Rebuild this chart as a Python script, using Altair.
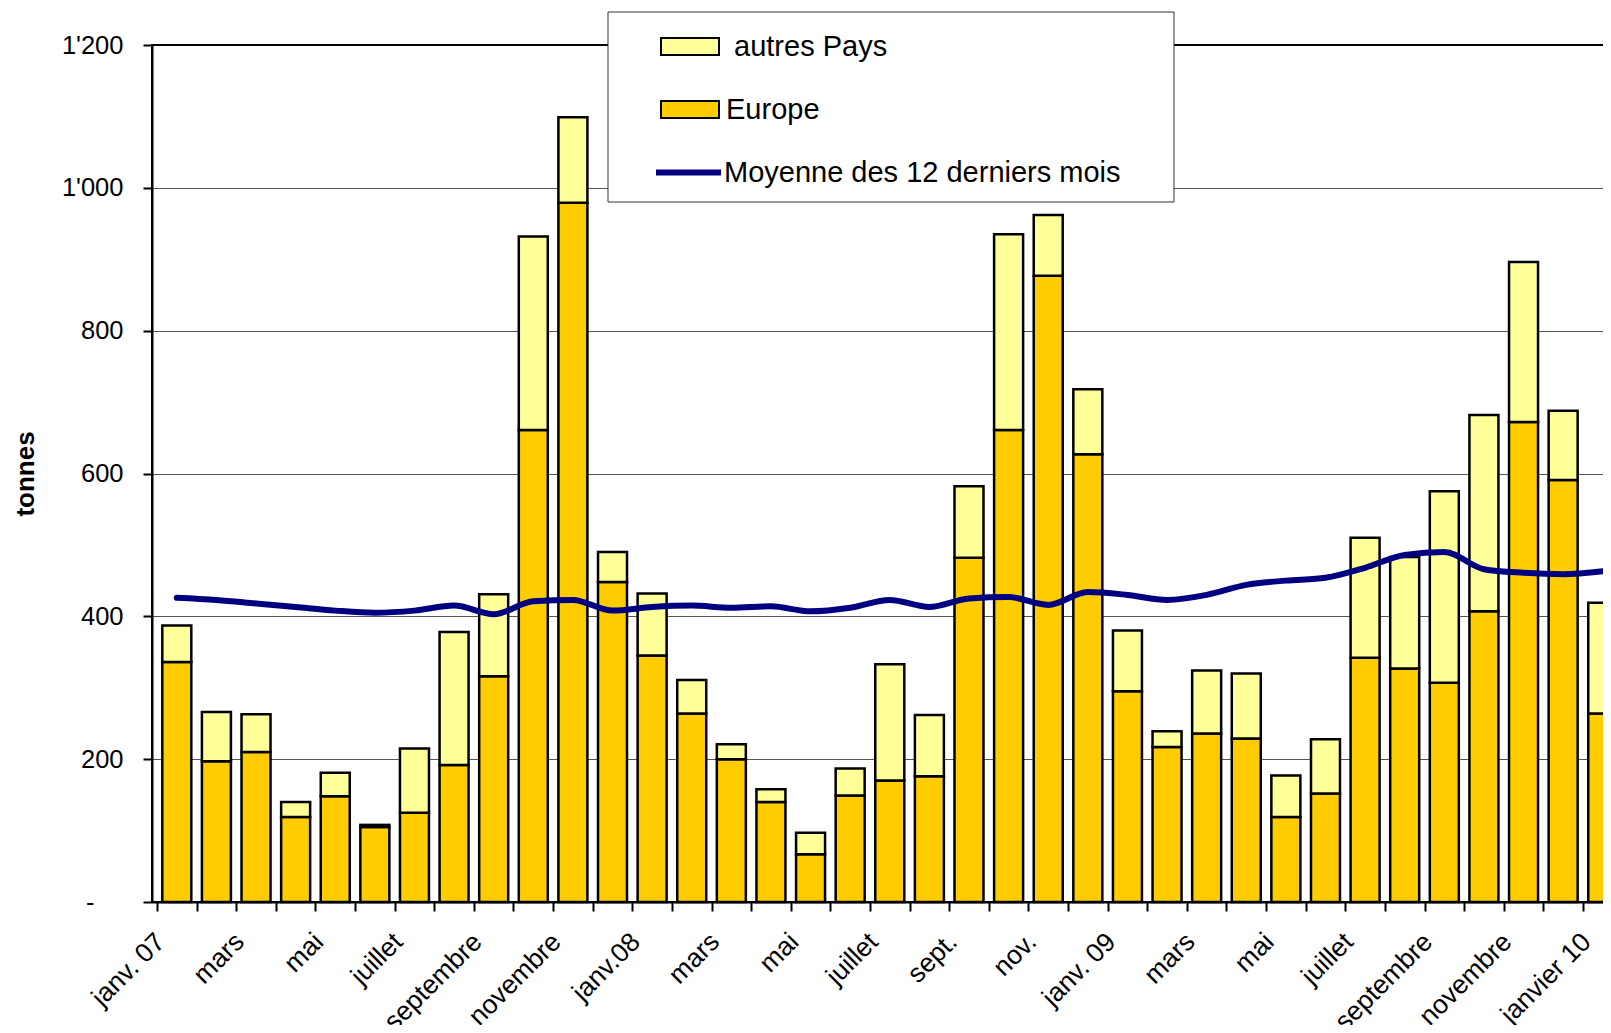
import altair as alt
import pandas as pd

# ---- data ----
tick_labels = ["janv. 07", "mars", "mai", "juillet", "septembre", "novembre",
               "janv.08", "mars", "mai", "juillet", "sept.", "nov.",
               "janv. 09", "mars", "mai", "juillet", "septembre", "novembre", "janvier 10"]

europe = [336, 197, 210, 119, 148, 105, 125, 192, 316, 661, 979, 448,
          345, 264, 200, 140, 67, 149, 170, 176, 482, 661, 877, 627,
          295, 217, 236, 229, 119, 152, 342, 327, 307, 407, 672, 591, 264]

autres = [51, 69, 53, 21, 33, 3, 90, 186, 115, 271, 120, 42,
          87, 47, 21, 18, 30, 38, 163, 86, 100, 274, 85, 91,
          85, 22, 88, 91, 58, 76, 168, 156, 268, 275, 224, 97, 155]

moyenne = [426, 423, 418, 413, 408, 405, 408, 415, 403, 421, 423, 408,
           413, 415, 412, 414, 407, 412, 423, 413, 425, 427, 416, 434,
           430, 423, 430, 444, 450, 454, 468, 486, 490, 466, 461, 459, 463]

bar_series = ["autres Pays", "Europe"]
bar_colors = ["#FFFF99", "#FFCC00"]
line_name = "Moyenne des 12 derniers mois"
line_color = "#000080"
y_ticks = [0, 200, 400, 600, 800, 1000, 1200]

n = len(europe)
rows = []
for i in range(n):
    rows.append({"idx": i, "serie": "Europe", "ord": 0, "val": europe[i]})
    rows.append({"idx": i, "serie": "autres Pays", "ord": 1, "val": autres[i]})
bars_df = pd.DataFrame(rows)
line_df = pd.DataFrame({"idx": list(range(n)), "val": moyenne, "serie": [line_name] * n})

# ---- layout ----
FONT = "Liberation Sans"
W = 37 * 39.88
H = 857
band = W / n

arr = "[" + ",".join("'" + t + "'" for t in tick_labels) + "]"
x_label_expr = f"(datum.value % 2 == 0 && datum.value < {n}) ? {arr}[datum.value / 2] : ''"

x_scale = alt.Scale(domain=[0, n], nice=False, zero=False)
x_axis = alt.Axis(values=list(range(n + 1)), labelExpr=x_label_expr, title=None,
                  labelAngle=-45, labelAlign="right", labelBaseline="alphabetic",
                  labelOffset=band / 2 - 11, labelPadding=32, labelOverlap=False,
                  labelFlush=False, labelBound=False,
                  labelFont=FONT, labelFontSize=26.5, labelColor="black",
                  tickSize=9, tickWidth=2, tickColor="black",
                  domainColor="black", domainWidth=2, grid=False)

y_label_expr = "datum.value == 0 ? '-' : replace(format(datum.value, ','), ',', \"'\")"
y_scale = alt.Scale(domain=[0, 1200], nice=False)
y_axis = alt.Axis(values=y_ticks, labelExpr=y_label_expr, title="tonnes",
                  labelFont=FONT, labelFontSize=25.5, labelColor="black",
                  labelPadding={"condition": {"test": "datum.value == 0", "value": 49}, "value": 20},
                  tickSize=9, tickWidth=2, tickColor="black",
                  domainColor="black", domainWidth=2,
                  grid=True, gridColor="#555555", gridWidth=1,
                  gridOpacity={"condition": {"test": "datum.value >= 1200 || datum.value <= 0", "value": 0}, "value": 1},
                  titleFont=FONT, titleFontSize=26, titleFontWeight="bold", titleColor="black",
                  titleX=-127, titleY=H / 2, titleBaseline="middle", titleAngle=270)

fill_legend = alt.Legend(orient="none", legendX=508, legendY=-28.5, title=None,
                         symbolType="M-1,-0.29H1V0.29H-1Z", symbolSize=3364,
                         symbolStrokeColor="black", symbolStrokeWidth=2,
                         labelFont=FONT, labelFontSize=29, labelColor="black",
                         labelOffset=6, rowPadding=18, padding=0, labelLimit=0,
                         labelExpr="datum.label == 'autres Pays' ? '\u200b\u00a0' + datum.label : datum.label")
line_legend = alt.Legend(orient="none", legendX=501, legendY=92, title=None,
                         symbolType="stroke", symbolSize=4225, symbolStrokeWidth=6,
                         labelFont=FONT, labelFontSize=29, labelColor="black",
                         labelOffset=0, padding=0, labelLimit=0)

bars = alt.Chart(bars_df).transform_calculate(pos="datum.idx + 0.5").mark_bar(
    size=29, stroke="black", strokeWidth=2.5
).encode(
    x=alt.X("pos:Q", scale=x_scale, axis=x_axis),
    y=alt.Y("val:Q", stack="zero", scale=y_scale, axis=y_axis),
    fill=alt.Fill("serie:N", scale=alt.Scale(domain=bar_series, range=bar_colors), legend=fill_legend),
    order=alt.Order("ord:Q"),
)

line = alt.Chart(line_df).transform_calculate(pos="datum.idx + 0.5").mark_line(
    interpolate="monotone", strokeWidth=6, strokeCap="round"
).encode(
    x=alt.X("pos:Q", scale=x_scale, axis=x_axis),
    y=alt.Y("val:Q", scale=y_scale, axis=y_axis),
    stroke=alt.Stroke("serie:N", scale=alt.Scale(domain=[line_name], range=[line_color]), legend=line_legend),
)

legend_box = alt.Chart(pd.DataFrame({"a": [0]})).mark_rect(
    fill="white", stroke="#333333", strokeWidth=1
).encode(x=alt.value(456), x2=alt.value(1022), y=alt.value(-33), y2=alt.value(157))

chart = alt.layer(bars, line, legend_box).properties(
    width=W, height=H,
    autosize=alt.AutoSizeParams(type="none"),
    padding={"left": 144, "top": 37, "right": 1595 - 144 - W, "bottom": 123},
    background="white",
).configure_view(stroke="black", strokeWidth=2)

chart.save("out.html", embed_options={"renderer": "svg", "actions": False})
